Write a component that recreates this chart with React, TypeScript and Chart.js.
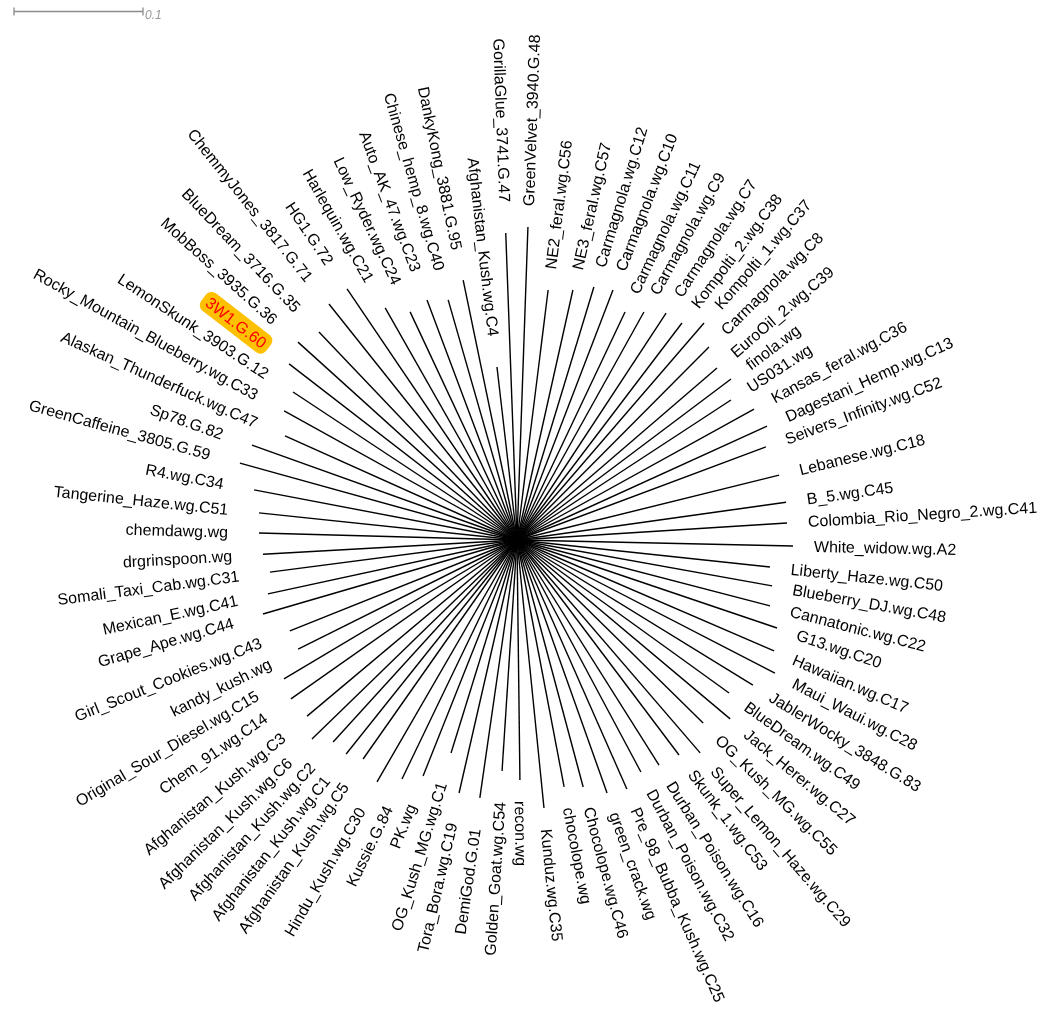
import React, { useEffect, useRef } from "react";
import { Chart, registerables } from "chart.js";

Chart.register(...registerables);

// Tip labels in clockwise order, starting near the top
const tipLabels = [
  "GorillaGlue_3741.G.47", "GreenVelvet_3940.G.48", "NE2_feral.wg.C56", "NE3_feral.wg.C57",
  "Carmagnola.wg.C12", "Carmagnola.wg.C10", "Carmagnola.wg.C11", "Carmagnola.wg.C9",
  "Carmagnola.wg.C7", "Kompolti_2.wg.C38", "Kompolti_1.wg.C37", "Carmagnola.wg.C8",
  "EuroOil_2.wg.C39", "finola.wg", "US031.wg", "Kansas_feral.wg.C36",
  "Dagestani_Hemp.wg.C13", "Seivers_Infinity.wg.C52", "Lebanese.wg.C18", "B_5.wg.C45",
  "Colombia_Rio_Negro_2.wg.C41", "White_widow.wg.A2", "Liberty_Haze.wg.C50", "Blueberry_DJ.wg.C48",
  "Cannatonic.wg.C22", "G13.wg.C20", "Hawaiian.wg.C17", "Maui_Waui.wg.C28",
  "JablerWocky_3848.G.83", "BlueDream.wg.C49", "Jack_Herer.wg.C27", "OG_Kush_MG.wg.C55",
  "Super_Lemon_Haze.wg.C29", "Skunk_1.wg.C53", "Durban_Poison.wg.C16", "Durban_Poison.wg.C32",
  "Pre_98_Bubba_Kush.wg.C25", "green_crack.wg", "Chocolope.wg.C46", "chocolope.wg",
  "Kunduz.wg.C35", "recon.wg", "Golden_Goat.wg.C54", "DemiGod.G.01",
  "Tora_Bora.wg.C19", "OG_Kush_MG.wg.C1", "PK.wg", "Kussie.G.84",
  "Hindu_Kush.wg.C30", "Afghanistan_Kush.wg.C5", "Afghanistan_Kush.wg.C1", "Afghanistan_Kush.wg.C2",
  "Afghanistan_Kush.wg.C6", "Afghanistan_Kush.wg.C3", "Chem_91.wg.C14", "Original_Sour_Diesel.wg.C15",
  "kandy_kush.wg", "Girl_Scout_Cookies.wg.C43", "Grape_Ape.wg.C44", "Mexican_E.wg.C41",
  "Somali_Taxi_Cab.wg.C31", "drgrinspoon.wg", "chemdawg.wg", "Tangerine_Haze.wg.C51",
  "R4.wg.C34", "GreenCaffeine_3805.G.59", "Sp78.G.82", "Alaskan_Thunderfuck.wg.C47",
  "Rocky_Mountain_Blueberry.wg.C33", "LemonSkunk_3903.G.12", "3W1.G.60", "MobBoss_3935.G.36",
  "BlueDream_3716.G.35", "ChemmyJones_3817.G.71", "HG1.G.72", "Harlequin.wg.C21",
  "Low_Ryder.wg.C24", "Auto_AK_47.wg.C23", "Chinese_hemp_8.wg.C40", "DankyKong_3881.G.95",
  "Afghanistan_Kush.wg.C4",
];

// Branch length from the centre to each tip (tree units)
const branchLengths = [
  0.2381, 0.2428, 0.1953, 0.1986, 0.2050, 0.2076, 0.1956, 0.2023,
  0.2105, 0.2113, 0.2221, 0.2110, 0.2045, 0.2076, 0.1982, 0.2099,
  0.2130, 0.2060, 0.2093, 0.2106, 0.2097, 0.2140, 0.1972, 0.2009,
  0.2027, 0.2128, 0.2170, 0.2250, 0.2147, 0.2027, 0.2157, 0.2023,
  0.2177, 0.2087, 0.2063, 0.2039, 0.2110, 0.2081, 0.1982, 0.1949,
  0.2088, 0.1861, 0.1795, 0.2020, 0.2012, 0.1729, 0.1969, 0.2056,
  0.2167, 0.2075, 0.2123, 0.2118, 0.2215, 0.2124, 0.2142, 0.2103,
  0.1896, 0.1896, 0.2051, 0.1975, 0.1931, 0.1972, 0.2001, 0.2011,
  0.2075, 0.2229, 0.2182, 0.1971, 0.2064, 0.2081, 0.2233, 0.2288,
  0.2226, 0.2339, 0.2350, 0.2069, 0.1953, 0.1987, 0.1936, 0.2058,
  0.1350,
];

// Direction of each tip (degrees, counter-clockwise from the +x axis)
const tipAngles = [
  92.1, 88.0, 82.9, 77.4, 73.1, 69.0, 64.65, 60.9,
  56.7, 52.75, 49.25, 45.15, 40.7, 36.95, 33.2, 28.9,
  24.5, 20.5, 13.9, 8.0, 3.6, -1.25, -6.1, -10.2,
  -14.6, -18.7, -23.35, -27.3, -31.6, -35.8, -40.0, -44.5,
  -49.3, -53.0, -57.75, -61.9, -66.2, -70.4, -75.0, -79.2,
  -84.25, -89.3, -93.7, -98.2, -102.9, -107.2, -111.7, -115.7,
  -120.05, -125.1, -128.6, -132.3, -135.85, -140.0, -144.9, -149.2,
  -153.5, -158.2, -163.75, -167.8, -172.6, -176.8, 178.45, 174.0,
  169.2, 164.5, 160.3, 155.85, 151.0, 146.55, 142.3, 137.9,
  133.6, 128.55, 124.1, 119.6, 115.1, 110.55, 106.0, 101.7,
  96.6,
];

const highlightedTips = ["3W1.G.60"];
const scaleBarLength = 0.1;
const scaleBarLabel = "0.1";

const PX_PER_UNIT = 1290;
const W = 1041;
const H = 1009;
const CX = 517;
const CY = 540;

const tipXY = (i: number) => {
  const th = (tipAngles[i] * Math.PI) / 180;
  return { x: branchLengths[i] * Math.cos(th), y: branchLengths[i] * Math.sin(th) };
};

const labelPlugin = {
  id: "tipLabels",
  afterDatasetsDraw(chart: any) {
    const ctx: CanvasRenderingContext2D = chart.ctx;
    const xs = chart.scales.x;
    const ys = chart.scales.y;
    const ox = xs.getPixelForValue(0);
    const oy = ys.getPixelForValue(0);
    ctx.save();
    ctx.font = '16px "Liberation Sans", Arial, Helvetica, sans-serif';
    ctx.textBaseline = "middle";
    tipLabels.forEach((name, i) => {
      const p = tipXY(i);
      const tx = xs.getPixelForValue(p.x);
      const ty = ys.getPixelForValue(p.y);
      const dx = tx - ox;
      const dy = ty - oy;
      const len = Math.hypot(dx, dy) || 1;
      const ux = dx / len;
      const uy = dy / len;
      const flip = ux < 0;
      const gap = flip ? 31 : 21;
      const lx = tx + ux * gap;
      const ly = ty + uy * gap;
      ctx.save();
      ctx.translate(lx, ly);
      let rot = Math.atan2(uy, ux);
      if (flip) rot += Math.PI;
      ctx.rotate(rot);
      ctx.textAlign = flip ? "right" : "left";
      if (highlightedTips.includes(name)) {
        const w = ctx.measureText(name).width;
        const x0 = flip ? -w : 0;
        ctx.fillStyle = "#FFC000";
        ctx.beginPath();
        (ctx as any).roundRect(x0 - 5, -11, w + 10, 22, 7);
        ctx.fill();
        ctx.fillStyle = "#FF0000";
      } else {
        ctx.fillStyle = "#000000";
      }
      ctx.fillText(name, 0, 1);
      ctx.restore();
    });

    // scale bar
    const barPx = xs.getPixelForValue(scaleBarLength) - xs.getPixelForValue(0);
    const bx = 14;
    const by = 11.5;
    ctx.strokeStyle = "#8c8c8c";
    ctx.lineWidth = 1.3;
    ctx.beginPath();
    ctx.moveTo(bx, by);
    ctx.lineTo(bx + barPx, by);
    ctx.moveTo(bx, by - 4);
    ctx.lineTo(bx, by + 4);
    ctx.moveTo(bx + barPx, by - 4);
    ctx.lineTo(bx + barPx, by + 4);
    ctx.stroke();
    ctx.font = 'italic 12px "Liberation Sans", Arial, sans-serif';
    ctx.fillStyle = "#999999";
    ctx.textAlign = "left";
    ctx.textBaseline = "middle";
    ctx.fillText(scaleBarLabel, bx + barPx + 2, by + 4);
    ctx.restore();
  },
};

export default function App() {
  const ref = useRef<HTMLCanvasElement | null>(null);
  useEffect(() => {
    if (!ref.current) return;
    const datasets = tipLabels.map((name, i) => {
      const p = tipXY(i);
      return {
        label: name,
        data: [{ x: 0, y: 0 }, p],
        showLine: true,
        borderColor: "#000000",
        borderWidth: 1.4,
        pointRadius: 0,
        pointHoverRadius: 0,
        fill: false,
      };
    });
    const chart = new Chart(ref.current, {
      type: "scatter",
      data: { datasets },
      options: {
        animation: false,
        responsive: true,
        maintainAspectRatio: false,
        events: [],
        layout: { padding: 0 },
        plugins: { legend: { display: false }, tooltip: { enabled: false } },
        scales: {
          x: { type: "linear", display: false, min: -CX / PX_PER_UNIT, max: (W - CX) / PX_PER_UNIT },
          y: { type: "linear", display: false, min: -(H - CY) / PX_PER_UNIT, max: CY / PX_PER_UNIT },
        },
      },
      plugins: [labelPlugin],
    } as any);
    return () => chart.destroy();
  }, []);
  return (
    <div style={{ position: "fixed", left: 0, top: 0, width: W, height: H, background: "#fff" }}>
      <canvas ref={ref} />
    </div>
  );
}
